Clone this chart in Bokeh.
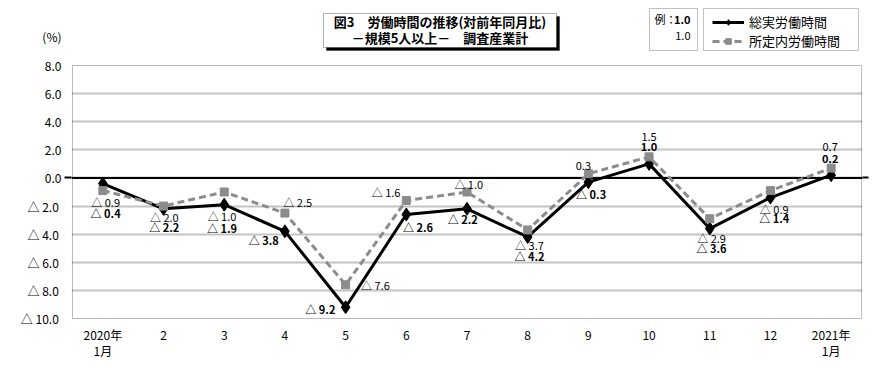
from bokeh.plotting import figure
from bokeh.models import (FixedTicker, Label, BoxAnnotation, Span, Legend,
                          LegendItem, ColumnDataSource, LinearAxis)
from bokeh.core.properties import value
from bokeh.embed import file_html
from bokeh.resources import INLINE

# ---------------- data ----------------
months = ["2020年\n1月", "2", "3", "4", "5", "6", "7", "8", "9", "10", "11", "12", "2021年\n1月"]
total_hours = [-0.4, -2.2, -1.9, -3.8, -9.2, -2.6, -2.2, -4.2, -0.3, 1.0, -3.6, -1.4, 0.2]
scheduled_hours = [-0.9, -2.0, -1.0, -2.5, -7.6, -1.6, -1.0, -3.7, 0.3, 1.5, -2.9, -0.9, 0.7]
y_ticks = [-10, -8, -6, -4, -2, 0, 2, 4, 6, 8]
series_names = ["総実労働時間", "所定内労働時間"]
title_lines = ["図3　労働時間の推移(対前年同月比)", "－規模5人以上－　調査産業計"]
unit_label = "(%)"

# label placement (pixel offsets, style only)
sched_dx = [4, 2, -1, 14, 31, -19, 3, 3, -5, 0, 3, 5, -1]
sched_dy = [11, 11, 24, -11, 0, -8, -8, 15, -8, -20, 19, 18, -21]
total_dx = [4, 2, -1, -20, -24, 13, -3, 3, 4, 0, 3, 5, -1]
total_dy = [29, 18, 23, 9, 2, 13, 10, 19, 12, -17, 19, 20, -17]


def fmt(v):
    return ("△  %.1f" % abs(v)) if v < 0 else ("%.1f" % v)


JP = "Noto Sans CJK JP"
W, H = 874, 375

# plot area in page pixels
PL, PR, PT, PB = 72, 861, 65, 318
X0, X1 = -0.5, 12.5
Y0, Y1 = -10, 8
PXU = (PR - PL) / (X1 - X0)
PYU = (PB - PT) / (Y1 - Y0)


def dx(px):
    return X0 + (px - PL) / PXU


def dy(py):
    return Y1 - (py - PT) / PYU


# frame: plot area horizontally (+1px), extended up to the top of the page
FL, FR, FB = PL - 1, PR + 1, PB + 1
p = figure(width=W, height=H,
           x_range=(dx(FL), dx(FR)), y_range=(dy(FB), dy(0)),
           output_backend="svg", toolbar_location=None,
           min_border_left=FL, min_border_right=W - FR,
           min_border_top=0, min_border_bottom=H - FB)
p.background_fill_color = "white"
p.border_fill_color = "white"
p.outline_line_color = None

xs = list(range(len(months)))

# x axis
p.xaxis.ticker = FixedTicker(ticks=xs, minor_ticks=[])
p.xaxis.major_label_overrides = {i: m for i, m in enumerate(months)}
p.xaxis.axis_line_color = None
p.xaxis.major_tick_line_color = None
p.xaxis.minor_tick_line_color = None
p.xaxis.major_label_standoff = 0
p.xaxis.major_label_text_font = JP
p.xaxis.major_label_text_font_size = "12px"
p.xaxis.major_label_text_line_height = 0.95
p.xaxis.major_label_text_color = "black"

# y axis (unit label sits above the top tick); minor tick at 0 = zero-line stub
pct_y = dy(36)
p.yaxis.ticker = FixedTicker(ticks=y_ticks + [pct_y], minor_ticks=[0])
labels = {t: fmt(t) for t in y_ticks}
labels[pct_y] = unit_label
p.yaxis.major_label_overrides = labels
p.yaxis.axis_line_color = None
p.yaxis.major_tick_line_color = None
p.yaxis.minor_tick_line_color = "black"
p.yaxis.minor_tick_line_width = 2
p.yaxis.minor_tick_out = 7
p.yaxis.minor_tick_in = 0
p.yaxis.major_label_standoff = 3
p.yaxis.major_label_text_font = JP
p.yaxis.major_label_text_font_size = "12px"
p.yaxis.major_label_text_color = "black"

rax = LinearAxis(ticker=FixedTicker(ticks=[], minor_ticks=[0]),
                 axis_line_color=None, major_tick_line_color=None,
                 minor_tick_line_color="black", minor_tick_line_width=2,
                 minor_tick_out=6, minor_tick_in=0,
                 major_label_text_font_size="0px", major_label_standoff=0)
p.add_layout(rax, "right")

p.xgrid.grid_line_color = None
p.ygrid.ticker = FixedTicker(ticks=[t for t in y_ticks if Y0 < t < Y1], minor_ticks=[])
p.ygrid.grid_line_color = "#c4c4c4"
p.ygrid.grid_line_width = 2

# plot-area border and zero line
p.add_layout(BoxAnnotation(left=X0, right=X1, bottom=Y0, top=Y1,
                           fill_alpha=0, line_color="#222222", line_width=1,
                           level="underlay"))
p.add_layout(Span(location=0, dimension="width", line_color="black",
                  line_width=2, level="underlay"))

# series
src = ColumnDataSource(dict(
    x=xs, total=total_hours, sched=scheduled_hours,
    tl=[fmt(v) for v in total_hours], sl=[fmt(v) for v in scheduled_hours],
    tdx=total_dx, tdy=total_dy, sdx=sched_dx, sdy=sched_dy))

r1 = p.line("x", "total", source=src, line_color="black", line_width=3)
r1m = p.scatter("x", "total", source=src, marker="diamond", size=13,
                fill_color="black", line_color="black")
r2 = p.line("x", "sched", source=src, line_color="#8c8c8c", line_width=3,
            line_dash="7 4")
r2m = p.scatter("x", "sched", source=src, marker="square", size=8,
                fill_color="#8c8c8c", line_color="#8c8c8c")

p.text("x", "sched", text="sl", source=src, x_offset="sdx", y_offset="sdy",
       text_font=value(JP), text_font_size="11px", text_color="black",
       text_align="center", text_baseline="middle")
p.text("x", "total", text="tl", source=src, x_offset="tdx", y_offset="tdy",
       text_font=value(JP), text_font_size="11px", text_color="black",
       text_font_style="bold", text_align="center", text_baseline="middle")

# title box with shadow
p.add_layout(BoxAnnotation(left=dx(326), right=dx(559), top=dy(16), bottom=dy(50),
                           fill_color="black", fill_alpha=1, line_color="black"))
p.add_layout(BoxAnnotation(left=dx(323), right=dx(556), top=dy(13), bottom=dy(47),
                           fill_color="white", fill_alpha=1, line_color="black",
                           line_width=1))
for txt, yy in zip(title_lines, [21, 37]):
    p.add_layout(Label(x=dx(439.5), y=dy(yy), text=txt, text_align="center",
                       text_baseline="middle", text_font=JP, text_font_size="13px",
                       text_font_style="bold", text_color="black"))

# example box
p.add_layout(BoxAnnotation(left=dx(649), right=dx(697), top=dy(8), bottom=dy(50),
                           fill_color="white", fill_alpha=1, line_color="#333333",
                           line_width=1))
p.add_layout(Label(x=dx(654), y=dy(18.5), text="例：", text_align="left",
                   text_baseline="middle", text_font=JP, text_font_size="11px",
                   text_color="black"))
p.add_layout(Label(x=dx(690), y=dy(18.5), text="1.0", text_align="right",
                   text_baseline="middle", text_font=JP, text_font_size="11px",
                   text_font_style="bold", text_color="black"))
p.add_layout(Label(x=dx(690), y=dy(35), text="1.0", text_align="right",
                   text_baseline="middle", text_font=JP, text_font_size="11px",
                   text_color="black"))

# legend box + legend
p.add_layout(BoxAnnotation(left=dx(703), right=dx(858), top=dy(8), bottom=dy(50),
                           fill_color="white", fill_alpha=1, line_color="#333333",
                           line_width=1))
legend = Legend(items=[LegendItem(label=series_names[0], renderers=[r1, r1m]),
                       LegendItem(label=series_names[1], renderers=[r2, r2m])],
                location=(712 - FL, FB - 50))
legend.label_text_font = JP
legend.label_text_font_size = "13px"
legend.label_text_color = "black"
legend.glyph_width = 32
legend.glyph_height = 14
legend.label_height = 14
legend.label_standoff = 5
legend.spacing = 0
legend.padding = 3
legend.margin = 0
legend.border_line_color = None
legend.background_fill_alpha = 0
p.add_layout(legend)

open("out.html", "w", encoding="utf-8").write(file_html(p, INLINE))
